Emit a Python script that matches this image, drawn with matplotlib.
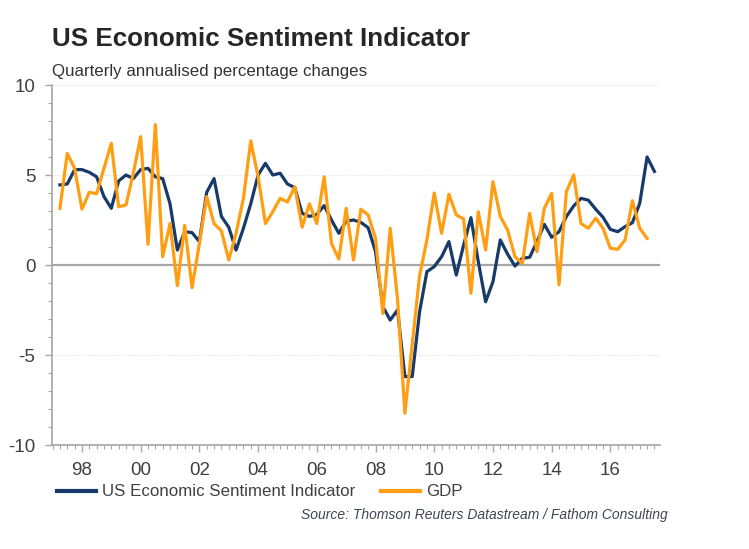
import matplotlib
matplotlib.use("Agg")
import matplotlib.pyplot as plt
import numpy as np
from matplotlib.ticker import MultipleLocator, FuncFormatter

plt.rcParams['font.family'] = ['Liberation Sans', 'DejaVu Sans']
plt.rcParams['axes.unicode_minus'] = False

# quarterly data, first quarter 1997Q2
start = 1997.25
esi = [4.45, 4.5, 5.3, 5.3, 5.15, 4.9, 3.8, 3.15, 4.67, 5.0,
       4.8, 5.3, 5.37, 4.9, 4.8, 3.4, 0.83, 1.85, 1.8, 1.3,
       4.04, 4.8, 2.7, 2.1, 0.83, 2.04, 3.4, 5.0, 5.65, 5.0,
       5.1, 4.5, 4.3, 2.87, 2.7, 2.8, 3.3, 2.5, 1.76, 2.44,
       2.5, 2.37, 2.07, 0.74, -2.31, -3.06, -2.5, -6.2, -6.2, -2.6,
       -0.37, -0.09, 0.46, 1.3, -0.56, 1.1, 2.63, 0.19, -2.04, -0.93,
       1.39, 0.6, -0.06, 0.37, 0.43, 1.3, 2.26, 1.54, 1.85, 2.69,
       3.28, 3.7, 3.6, 3.1, 2.65, 1.98, 1.85, 2.13, 2.35, 3.43,
       6.0, 5.2]
gdp = [3.15, 6.2, 5.37, 3.1, 4.04, 3.96, 5.37, 6.76, 3.24, 3.33,
       5.1, 7.13, 1.15, 7.8, 0.46, 2.3, -1.15, 2.2, -1.26, 1.2,
       3.8, 2.3, 1.9, 0.28, 1.76, 3.7, 6.9, 4.9, 2.3, 2.96,
       3.7, 3.5, 4.35, 2.1, 3.4, 2.3, 4.9, 1.2, 0.33, 3.15,
       0.28, 3.1, 2.78, 1.48, -2.7, 2.04, -1.9, -8.24, -4.4, -0.6,
       1.4, 4.0, 1.76, 3.93, 2.78, 2.56, -1.57, 2.96, 0.83, 4.63,
       2.7, 1.94, 0.46, 0.09, 2.87, 0.74, 3.15, 3.98, -1.1, 4.07,
       5.0, 2.3, 2.04, 2.6, 2.04, 0.93, 0.87, 1.39, 3.57, 2.04,
       1.48]
year_ticks = [1998, 2000, 2002, 2004, 2006, 2008, 2010, 2012, 2014, 2016]

navy = '#173a6b'
orange = '#ff9e12'
grey = '#a6a6a6'
txt = '#404040'

x_esi = start + 0.25 * np.arange(len(esi))
x_gdp = start + 0.25 * np.arange(len(gdp))

fig = plt.figure(figsize=(7.49, 5.49), dpi=100)
ax = fig.add_axes([52/749, 1-445/549, (660-52)/749, 360/549])

ax.plot(x_esi, esi, color=navy, lw=2.3, label='US Economic Sentiment Indicator', zorder=3)
ax.plot(x_gdp, gdp, color=orange, lw=2.3, label='GDP', zorder=4)

ax.set_xlim(1996.98, 2017.69)
ax.set_ylim(-10, 10)

for g in [10, 5, -5]:
    ax.axhline(g, color='#e6e6e6', lw=0.8, ls=(0, (1, 1)), zorder=1)
ax.axhline(0, color=grey, lw=1.6, zorder=2)

ax.set_xticks(year_ticks)
ax.xaxis.set_major_formatter(FuncFormatter(lambda v, p: '%02d' % (int(round(v)) % 100)))
ax.xaxis.set_minor_locator(MultipleLocator(0.25))
ax.yaxis.set_major_locator(MultipleLocator(5))
ax.yaxis.set_minor_locator(MultipleLocator(1))

ax.tick_params(axis='both', which='major', direction='out', length=5, width=1,
               color=grey, labelcolor=txt, labelsize=13.5)
ax.tick_params(axis='both', which='minor', direction='out', length=3, width=0.8, color=grey)
ax.tick_params(axis='x', which='major', pad=7)
ax.tick_params(axis='y', which='major', pad=7)

for s in ['top', 'right']:
    ax.spines[s].set_visible(False)
for s in ['left', 'bottom']:
    ax.spines[s].set_color(grey)
    ax.spines[s].set_linewidth(1.2)

leg = ax.legend(loc='center left', bbox_to_anchor=(57/749, 1-492/549),
                bbox_transform=fig.transFigure, ncol=2, frameon=False,
                fontsize=12.2, handlelength=2.3, handletextpad=0.35,
                columnspacing=1.55, borderpad=0, borderaxespad=0)
for t in leg.get_texts():
    t.set_color(txt)
for h in leg.get_lines():
    h.set_linewidth(3)

fig.text(52/749, 1-46/549, 'US Economic Sentiment Indicator', fontsize=18.7,
         fontweight='bold', color='#262626', va='baseline')
fig.text(52/749, 1-76/549, 'Quarterly annualised percentage changes', fontsize=12.2,
         color='#333333', va='baseline')
fig.text(668/749, 1-515/549, 'Source: Thomson Reuters Datastream / Fathom Consulting',
         fontsize=10, style='italic', color='#404552', ha='right', va='center')

plt.savefig('out.png', dpi=100)
